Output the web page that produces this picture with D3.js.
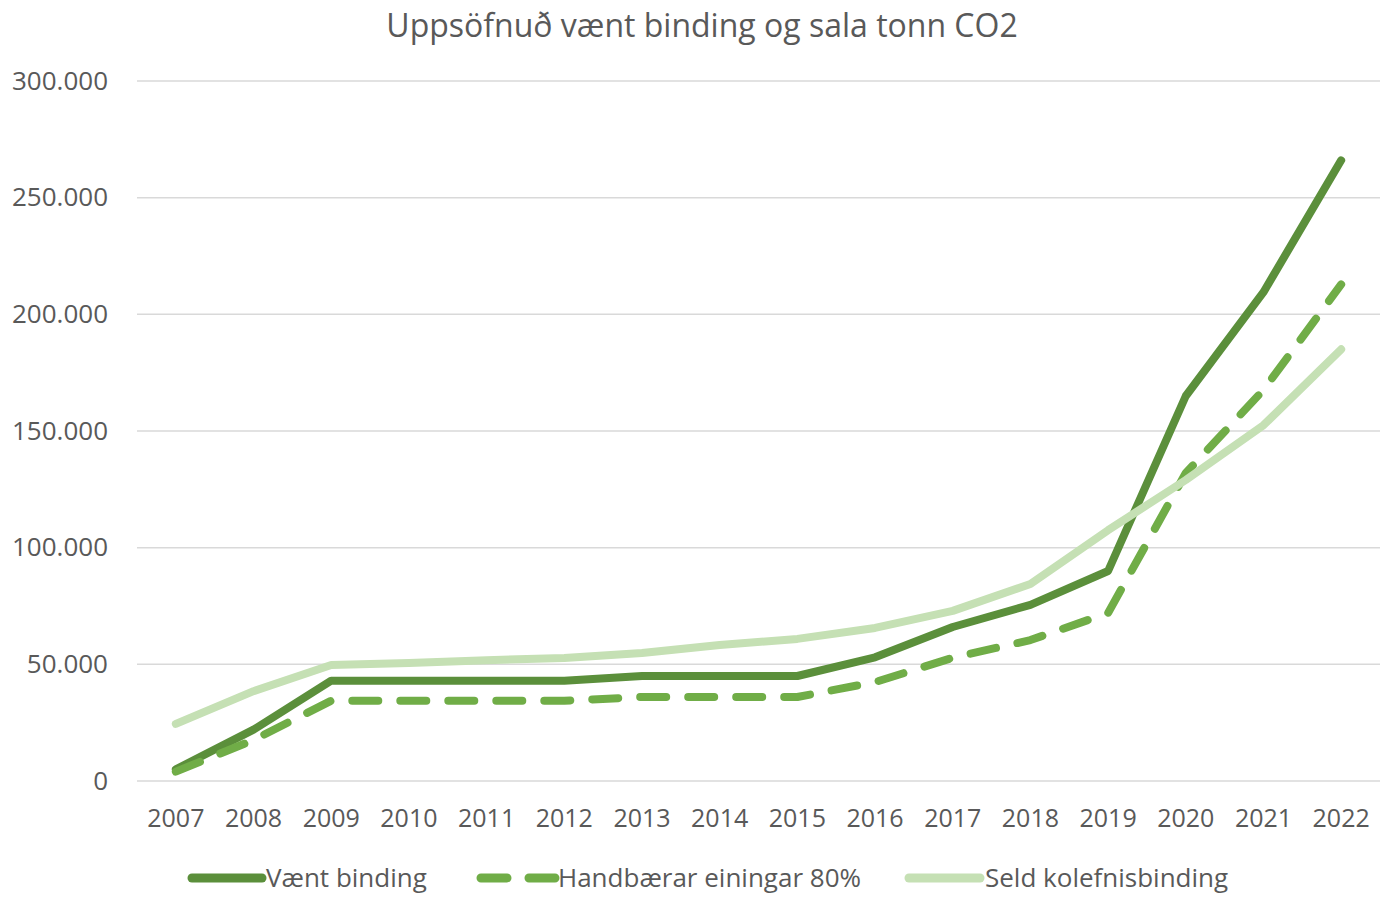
<!DOCTYPE html>
<html>
<head>
<meta charset="utf-8">
<script src="https://cdn.jsdelivr.net/npm/d3@7"></script>
<style>
  body { margin: 0; background: #fff; }
  svg text { font-family: "Open Sans", sans-serif; fill: #595959; }
</style>
</head>
<body>
<svg id="chart" width="1383" height="900"></svg>
<script>
// gögn lesin af myndinni
const years = ["2007","2008","2009","2010","2011","2012","2013","2014","2015","2016","2017","2018","2019","2020","2021","2022"];
const vaentBinding = [5000, 22000, 43000, 43000, 43000, 43000, 45000, 45000, 45000, 53000, 66000, 75500, 90000, 165000, 209500, 266000];
const handbaerar = [4000, 17600, 34400, 34400, 34400, 34400, 36000, 36000, 36000, 42400, 52800, 60400, 72000, 132000, 167600, 212800];
const seld = [24500, 38500, 49700, 50600, 51800, 52700, 54900, 58300, 60900, 65600, 72900, 84400, 107500, 129000, 152500, 185000];
const yTicks = [0, 50000, 100000, 150000, 200000, 250000, 300000];
const seriesNames = ["Vænt binding", "Handbærar einingar 80%", "Seld kolefnisbinding"];

const colors = ["#5b8f3b", "#70ad47", "#c5e0b4"];
const dashes = [null, "26 22", null];

const svg = d3.select("#chart");
const margin = { top: 81, right: 3, bottom: 119, left: 137 };
const W = 1383, H = 900;

const x = d3.scaleBand().domain(years).range([margin.left, W - margin.right]);
const y = d3.scaleLinear().domain([0, 300000]).range([H - margin.bottom, margin.top]);

const loc = d3.formatLocale({ decimal: ",", thousands: ".", grouping: [3], currency: ["", ""] });
const fmt = loc.format(",d");

// titill
svg.append("text")
  .attr("x", 702).attr("y", 37)
  .attr("text-anchor", "middle")
  .style("font-size", "32px")
  .text("Uppsöfnuð vænt binding og sala tonn CO2");

// hnitanet
svg.append("g").selectAll("line")
  .data(yTicks)
  .join("line")
    .attr("x1", margin.left).attr("x2", W - margin.right)
    .attr("y1", d => y(d)).attr("y2", d => y(d))
    .attr("stroke", "#d9d9d9").attr("stroke-width", 1.5);

// y-ás
const yAxis = svg.append("g")
  .attr("transform", `translate(${margin.left},0)`)
  .call(d3.axisLeft(y).tickValues(yTicks).tickFormat(fmt).tickSize(0).tickPadding(29));
yAxis.select(".domain").remove();
yAxis.selectAll("text").style("font-size", "26px").attr("fill", "#595959");

// x-ás
const xAxis = svg.append("g")
  .attr("transform", `translate(0,${y(0)})`)
  .call(d3.axisBottom(x).tickSize(0).tickPadding(28));
xAxis.select(".domain").remove();
xAxis.selectAll("text").style("font-size", "25px").attr("fill", "#595959");

// línur
const allSeries = [vaentBinding, handbaerar, seld];
const line = d3.line()
  .x((d, i) => x(years[i]) + x.bandwidth() / 2)
  .y(d => y(d));

allSeries.forEach((s, k) => {
  svg.append("path")
    .datum(s)
    .attr("d", line)
    .attr("fill", "none")
    .attr("stroke", colors[k])
    .attr("stroke-width", 8)
    .attr("stroke-linecap", "round")
    .attr("stroke-linejoin", "round")
    .attr("stroke-dasharray", dashes[k]);
});

// skýringar
const legendItems = [
  { x1: 192, x2: 262, tx: 266 },
  { x1: 481, x2: 555, tx: 558 },
  { x1: 909, x2: 980, tx: 985 }
];
const ly = 878;
legendItems.forEach((it, k) => {
  svg.append("line")
    .attr("x1", it.x1).attr("x2", it.x2)
    .attr("y1", ly).attr("y2", ly)
    .attr("stroke", colors[k])
    .attr("stroke-width", 9)
    .attr("stroke-linecap", "round")
    .attr("stroke-dasharray", k === 1 ? "26 22" : null);
  svg.append("text")
    .attr("x", it.tx).attr("y", ly + 9)
    .style("font-size", "26px")
    .text(seriesNames[k]);
});
</script>
</body>
</html>
